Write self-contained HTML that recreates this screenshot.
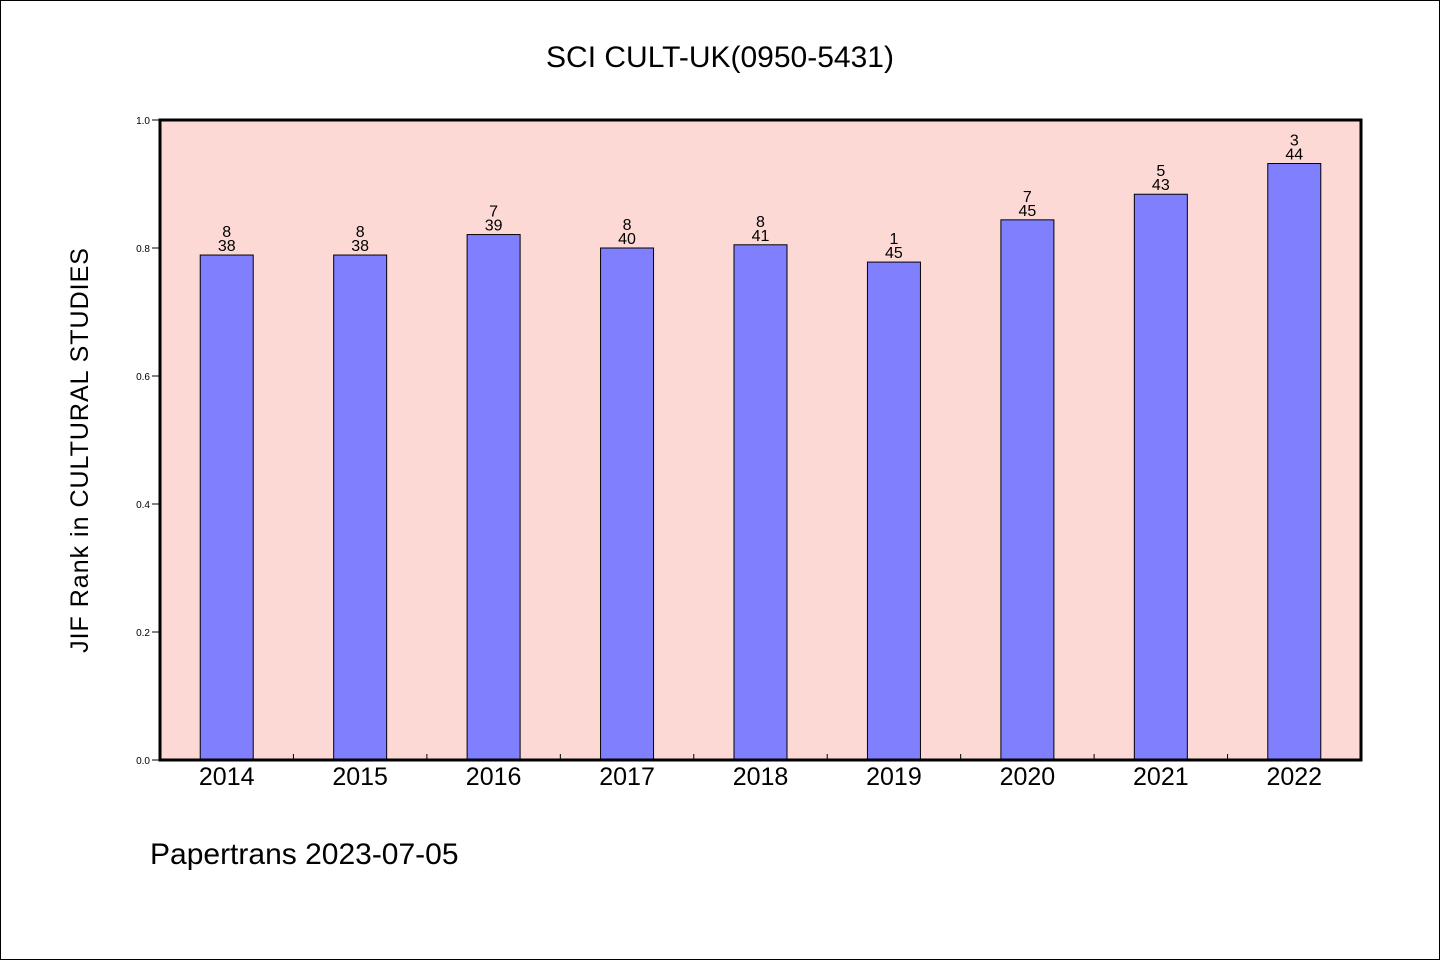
<!DOCTYPE html>
<html><head><meta charset="utf-8"><style>
html,body{margin:0;padding:0;background:#fff}
svg text{font-family:"WenQuanYi Zen Hei","Liberation Sans",sans-serif}
</style></head><body>
<svg id="chart" width="1440" height="960" viewBox="0 0 1440 960" xmlns="http://www.w3.org/2000/svg">
<rect x="0.5" y="0.5" width="1439" height="959" fill="#fff" stroke="#000" stroke-width="1"/>
<text x="720" y="67" font-size="30" text-anchor="middle">SCI CULT-UK(0950-5431)</text>
<rect x="160" y="120" width="1201" height="640" fill="#fdd9d6"/>
<g id="bars"></g>
<g id="axes"></g>
<rect x="160" y="120" width="1201" height="640" fill="none" stroke="#000" stroke-width="3"/>
<text transform="translate(88,450) rotate(-90)" font-size="25" text-anchor="middle" letter-spacing="1">JIF Rank in CULTURAL STUDIES</text>
<text x="150" y="864" font-size="30">Papertrans 2023-07-05</text>
</svg>
<script>
const categories=["2014","2015","2016","2017","2018","2019","2020","2021","2022"];
const values=[0.789,0.789,0.821,0.8,0.805,0.778,0.844,0.884,0.932];
const ranks=["8","8","7","8","8","1","7","5","3"];
const totals=["38","38","39","40","41","45","45","43","44"];
const yTicks=[0,0.2,0.4,0.6,0.8,1.0];
const NS="http://www.w3.org/2000/svg";
const x0=160,x1=1361,y0=760,y1=120;
const band=(x1-x0)/categories.length;
const xs=i=>x0+band*(i+0.5);
const ys=v=>y0-(y0-y1)*v;
function mk(tag,attrs,parent){const e=document.createElementNS(NS,tag);for(const k in attrs)e.setAttribute(k,attrs[k]);parent.appendChild(e);return e;}
const gb=document.getElementById('bars'),ga=document.getElementById('axes');
const bw=53;
categories.forEach((c,i)=>{
 const cx=xs(i),top=ys(values[i]);
 const r=mk('rect',{x:cx-bw/2,y:top,width:bw,height:y0-top,fill:'#8080ff',stroke:'#000','stroke-width':1},gb);
 
 
 const t1=mk('text',{x:cx,y:top-18,'font-size':16,'text-anchor':'middle'},gb);t1.textContent=ranks[i];
 
 
 const t2=mk('text',{x:cx,y:top-4,'font-size':16,'text-anchor':'middle'},gb);t2.textContent=totals[i];
 
 
 const xl=mk('text',{x:cx,y:785,'font-size':25,'text-anchor':'middle'},ga);xl.textContent=c;
 
 
 if(i>0){const tk=mk('line',{x1:x0+band*i,x2:x0+band*i,y1:y0,y2:y0-6,stroke:'#000','stroke-width':1},ga);
 
 }
});
yTicks.forEach(v=>{
 const y=ys(v);
 const l=mk('line',{x1:x0-8,x2:x0,y1:y,y2:y,stroke:'#000','stroke-width':1},ga);
 
 
 const t=mk('text',{x:x0-10,y:y+4,'font-size':10,'text-anchor':'end'},ga);t.textContent=v.toFixed(1);
 
 
});
</script>
</body></html>
